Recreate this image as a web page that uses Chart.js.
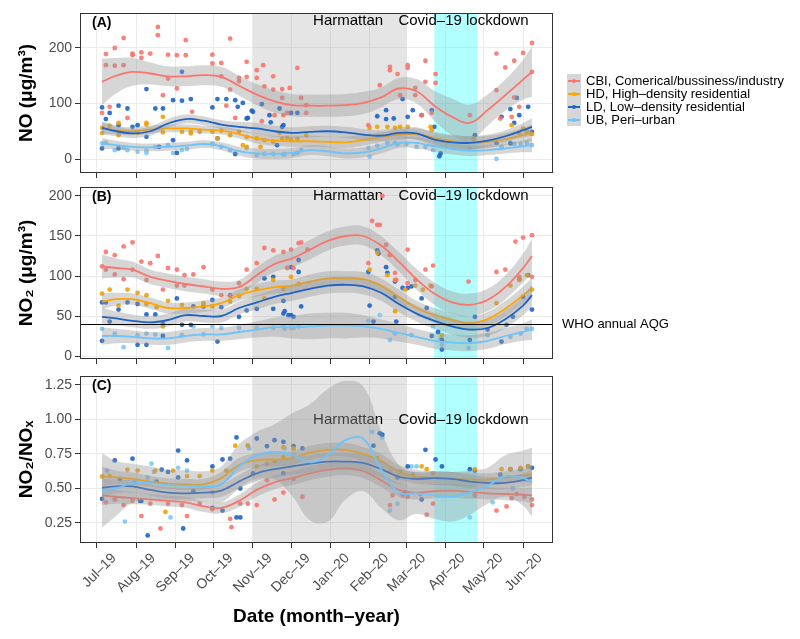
<!DOCTYPE html>
<html>
<head>
<meta charset="utf-8">
<script src="https://cdn.jsdelivr.net/npm/chart.js@4.4.1/dist/chart.umd.min.js"></script>
<style>
  body { margin: 0; background: #fff; width: 800px; height: 639px; position: relative; overflow: hidden;
         font-family: 'Liberation Sans', Arial, sans-serif; }
  canvas { position: absolute; left: 0; }
  #legend { position: absolute; left: 567px; top: 74px; font-size: 13px; color: #000; }
  .row { display: flex; align-items: center; height: 13px; }
  .key { width: 14px; height: 13px; background: #D6D6D6; position: relative; margin-right: 5px; }
  .key i { position: absolute; left: 1px; right: 1px; top: 5.5px; height: 2px; }
  .key b { position: absolute; left: 5px; top: 4.5px; width: 4px; height: 4px; border-radius: 50%; }
</style>
</head>
<body>
<canvas id="cA" width="800" height="180" style="top:0px"></canvas>
<canvas id="cB" width="800" height="190" style="top:180px"></canvas>
<canvas id="cC" width="800" height="269" style="top:370px"></canvas>
<div id="legend"></div>
<script>
// all dates are days counted from 1 Jul 2019
const monthDays = [0, 31, 62, 92, 123, 153, 184, 215, 244, 275, 305, 336];
const monthLabels = ['Jul–19', 'Aug–19', 'Sep–19', 'Oct–19', 'Nov–19', 'Dec–19',
                     'Jan–20', 'Feb–20', 'Mar–20', 'Apr–20', 'May–20', 'Jun–20'];
const harmattan = [123, 244];
const lockdown = [266, 300];
const sites = ['CBI, Comerical/bussiness/industry', 'HD, High–density residential',
               'LD, Low–density residential', 'UB, Peri–urban'];

const fitDays = [4, 15, 28, 42, 56, 70, 84, 98, 112, 126, 140, 154, 168, 182, 196, 210, 224, 238, 252, 266, 280, 294, 308, 322, 336, 343];

// (A) NO, [day, value]
const noCBI = [[4,83],[7,189],[7,169],[10,94],[14,200],[14,168],[21,218],[21,169],[24,74],[28,190],[28,187],[35,192],[35,182],[42,190],[48,238],[48,223],[52,115],[56,188],[56,145],[63,187],[63,127],[70,214],[70,187],[75,85],[91,188],[91,172],[98,173],[98,149],[102,96],[105,217],[105,125],[109,74],[112,146],[112,140],[118,175],[118,148],[126,160],[126,146],[130,68],[131,169],[132,131],[139,149],[139,125],[140,79],[146,126],[146,110],[147,79],[150,83],[152,128],[158,164],[161,110],[165,97],[165,83],[214,61],[223,133],[231,166],[231,160],[237,153],[239,115],[245,169],[245,164],[251,128],[251,115],[256,79],[259,177],[259,139],[264,83],[267,153],[267,137],[294,79],[315,190],[315,124],[318,73],[322,165],[327,76],[329,177],[329,111],[333,94],[336,191],[343,209],[343,157]];
const noHD = [[4,56],[4,47],[10,60],[17,65],[17,43],[32,47],[39,65],[39,62],[52,76],[52,48],[67,49],[74,49],[74,46],[81,49],[91,49],[95,37],[98,51],[105,43],[112,49],[115,25],[118,40],[118,22],[126,37],[129,22],[132,34],[139,31],[144,47],[146,36],[150,38],[153,34],[158,36],[165,43],[215,56],[221,58],[229,58],[235,56],[239,58],[245,58],[263,58],[264,52],[297,36],[327,61],[333,47],[336,55],[339,49],[343,45]];
const noLD = [[4,93],[4,19],[7,72],[10,83],[17,96],[17,61],[17,19],[24,91],[28,58],[32,61],[39,126],[39,40],[46,91],[49,22],[52,91],[60,106],[60,34],[63,11],[67,105],[67,157],[74,108],[91,93],[95,108],[95,37],[102,108],[109,106],[109,9],[111,94],[115,101],[118,73],[119,74],[122,87],[123,85],[130,99],[136,79],[137,66],[142,25],[144,91],[146,58],[147,61],[153,83],[158,83],[221,77],[228,88],[228,72],[234,73],[241,108],[245,76],[249,88],[256,79],[264,88],[266,58],[270,5],[271,10],[298,43],[315,29],[319,76],[326,90],[326,28],[329,65],[331,110],[333,79],[340,94],[343,49]];
const noUB = [[4,28],[7,29],[14,16],[21,20],[24,16],[32,13],[39,11],[39,15],[46,22],[56,25],[60,11],[67,16],[71,18],[91,27],[98,22],[105,16],[109,9],[118,20],[126,7],[132,9],[139,9],[147,8],[148,9],[155,9],[158,11],[161,16],[214,20],[215,4],[221,24],[229,29],[235,29],[237,26],[244,27],[252,22],[259,22],[265,16],[294,18],[315,0],[319,22],[326,29],[329,27],[334,27],[339,29],[343,25]];
const noFitCBI = [139,150,157,154,149,149,151,148,132,116,104,97,96,96,97,101,111,127,122,96,76,65,88,115,143,157];
const noFitHD  = [56,52,50,53,55,55,53,51,45,37,33,32,32,31,30,34,39,44,45,38,32,29,31,36,43,47];
const noFitLD  = [56,50,46,50,64,72,69,62,58,55,50,47,49,50,48,44,42,47,46,35,30,29,33,41,52,58];
const noFitUB  = [28,25,22,21,22,24,27,23,14,10,9,11,16,14,10,12,19,29,29,23,18,15,16,19,23,25];
const noSeCBI = [42,32,25,20,18,18,18,18,18,19,20,20,20,20,20,20,18,19,22,27,33,33,28,28,36,45];
const noSeHD  = [10,8,7,7,7,7,7,7,8,9,9,10,10,10,10,10,9,9,10,11,12,12,11,11,13,15];
const noSeLD  = [12,9,8,8,8,8,8,8,9,10,10,10,10,10,10,10,10,10,11,12,12,12,11,11,13,16];
const noSeUB  = [10,8,7,7,7,7,7,7,8,9,9,9,9,9,9,9,9,9,10,10,10,10,9,9,11,13];

// (B) NO2
const no2CBI = [[4,112],[7,130],[7,108],[14,126],[14,102],[21,137],[21,96],[28,142],[28,108],[35,118],[39,95],[42,116],[48,125],[52,83],[56,110],[63,108],[63,88],[69,101],[69,88],[76,102],[84,111],[91,83],[98,76],[105,75],[112,91],[118,108],[126,116],[132,135],[139,132],[147,130],[150,110],[153,133],[155,110],[159,141],[161,142],[166,133],[214,116],[217,169],[221,164],[223,164],[225,200],[228,139],[231,126],[235,104],[236,95],[245,133],[245,91],[251,95],[259,108],[264,87],[265,113],[293,93],[315,105],[322,108],[330,143],[333,99],[336,148],[343,151],[343,99]];
const no2HD = [[4,78],[10,83],[17,63],[24,83],[32,79],[39,76],[39,65],[47,61],[52,37],[56,69],[67,64],[84,66],[91,62],[105,68],[112,75],[118,84],[126,84],[132,72],[139,95],[147,84],[153,99],[159,90],[215,108],[221,129],[229,101],[235,95],[235,56],[243,83],[251,88],[257,83],[263,88],[272,26],[315,66],[326,88],[333,95],[339,101],[343,83]];
const no2LD = [[4,67],[4,19],[7,67],[10,43],[17,58],[24,67],[32,65],[32,14],[39,52],[39,14],[46,52],[52,40],[52,25],[63,72],[67,39],[74,39],[76,62],[84,62],[91,70],[95,18],[98,61],[105,76],[112,49],[118,57],[126,59],[132,97],[139,99],[139,59],[147,69],[147,53],[148,56],[151,51],[153,111],[153,51],[155,49],[159,120],[159,105],[161,62],[214,105],[215,63],[218,43],[221,132],[222,128],[228,111],[229,104],[235,93],[235,74],[236,43],[241,85],[245,85],[248,87],[256,72],[260,60],[264,25],[269,30],[272,20],[272,8],[294,20],[298,49],[308,33],[319,18],[323,39],[328,49],[333,96],[336,74],[340,101],[343,58]];
const no2UB = [[4,34],[14,28],[21,11],[32,26],[39,28],[46,27],[52,25],[56,10],[67,26],[76,37],[84,27],[91,37],[98,35],[112,35],[126,35],[139,35],[147,37],[148,34],[153,35],[155,35],[159,37],[214,44],[223,51],[231,20],[235,28],[248,26],[265,37],[271,22],[272,14],[293,10],[308,26],[326,24],[334,28],[339,34],[343,34]];
const no2FitCBI = [112,110,108,99,94,90,87,84,86,101,115,122,133,144,150,150,138,118,96,78,67,64,70,86,110,125];
const no2FitHD  = [68,71,71,66,60,60,62,66,76,82,86,88,93,97,97,96,88,74,60,51,45,41,46,59,76,85];
const no2FitLD  = [49,47,44,42,45,51,50,50,60,67,74,79,84,88,89,87,79,65,53,44,37,33,35,46,63,76];
const no2FitUB  = [25,25,24,22,22,25,27,27,30,33,36,36,37,38,38,37,34,29,24,19,17,16,19,25,30,33];
const no2SeCBI = [15,12,10,9,9,9,9,9,9,10,10,11,12,12,12,12,12,12,13,14,14,14,14,15,18,22];
const no2SeHD  = [10,8,7,7,7,7,7,7,7,8,8,8,9,9,9,9,9,9,9,9,9,9,9,10,11,13];
const no2SeLD  = [11,9,8,8,8,8,8,8,8,9,9,10,10,10,10,10,10,10,10,10,10,10,10,11,12,14];
const no2SeUB  = [11,9,8,8,8,8,8,8,9,10,12,14,16,16,16,14,12,11,10,10,10,10,10,10,11,13];

// (C) NO2/NOx
const ratioCBI = [[7,0.40],[14,0.42],[21,0.38],[28,0.41],[35,0.30],[42,0.39],[50,0.21],[56,0.39],[67,0.38],[71,0.30],[81,0.39],[91,0.35],[91,0.47],[105,0.28],[106,0.22],[113,0.39],[119,0.39],[126,0.38],[134,0.56],[140,0.42],[147,0.47],[155,0.57],[162,0.44],[231,0.38],[233,0.45],[241,0.45],[245,0.44],[255,0.46],[260,0.31],[265,0.39],[298,0.45],[315,0.34],[323,0.37],[327,0.43],[331,0.46],[337,0.44],[343,0.42],[343,0.38]];
const ratioHD = [[4,0.587],[10,0.59],[24,0.636],[32,0.63],[46,0.63],[54,0.33],[60,0.63],[71,0.59],[81,0.59],[91,0.63],[102,0.63],[109,0.81],[119,0.81],[126,0.66],[134,0.68],[140,0.70],[147,0.725],[147,0.80],[155,0.74],[155,0.79],[221,0.72],[231,0.62],[239,0.62],[249,0.60],[256,0.66],[260,0.64],[265,0.61],[298,0.64],[319,0.64],[326,0.64],[334,0.65],[340,0.66]];
const ratioLD = [[4,0.425],[14,0.703],[18,0.57],[28,0.716],[34,0.41],[35,0.41],[40,0.16],[47,0.55],[51,0.636],[56,0.62],[64,0.775],[64,0.58],[68,0.21],[71,0.703],[76,0.48],[91,0.66],[91,0.36],[99,0.71],[99,0.34],[105,0.716],[110,0.87],[110,0.29],[113,0.29],[113,0.5],[123,0.61],[126,0.862],[134,0.807],[140,0.85],[147,0.838],[147,0.61],[155,0.807],[162,0.79],[218,0.81],[223,0.90],[225,0.89],[237,0.58],[243,0.47],[245,0.66],[256,0.42],[259,0.78],[267,0.71],[272,0.66],[294,0.64],[298,0.63],[318,0.60],[326,0.64],[334,0.64],[340,0.66],[343,0.65]];
const ratioUB = [[8,0.63],[22,0.26],[30,0.55],[40,0.58],[43,0.68],[45,0.62],[58,0.29],[64,0.65],[71,0.63],[119,0.81],[120,0.79],[148,0.79],[155,0.79],[217,0.91],[225,0.87],[231,0.34],[237,0.39],[248,0.66],[252,0.66],[294,0.29],[312,0.40],[328,0.50],[339,0.57]];
const ratioFitCBI = [0.45,0.44,0.43,0.42,0.41,0.40,0.37,0.36,0.41,0.49,0.545,0.575,0.61,0.635,0.645,0.625,0.56,0.49,0.47,0.48,0.485,0.475,0.465,0.46,0.455,0.45];
const ratioFitHD  = [0.587,0.58,0.57,0.55,0.535,0.53,0.53,0.575,0.67,0.705,0.71,0.72,0.76,0.78,0.78,0.75,0.70,0.62,0.585,0.575,0.57,0.565,0.565,0.58,0.595,0.6];
const ratioFitLD  = [0.505,0.515,0.515,0.49,0.47,0.465,0.47,0.485,0.55,0.61,0.64,0.66,0.68,0.695,0.695,0.685,0.64,0.585,0.57,0.575,0.57,0.55,0.54,0.54,0.56,0.58];
const ratioFitUB  = [0.486,0.5,0.54,0.54,0.525,0.52,0.515,0.53,0.66,0.74,0.765,0.745,0.69,0.74,0.85,0.86,0.64,0.47,0.465,0.45,0.44,0.47,0.52,0.59,0.575,0.545];
const ratioSeCBI = [0.07,0.05,0.045,0.04,0.04,0.04,0.04,0.04,0.045,0.05,0.05,0.05,0.05,0.05,0.05,0.05,0.05,0.05,0.05,0.05,0.05,0.05,0.045,0.045,0.05,0.06];
const ratioSeHD  = [0.07,0.05,0.045,0.04,0.04,0.04,0.04,0.045,0.05,0.05,0.05,0.05,0.05,0.05,0.05,0.05,0.05,0.05,0.05,0.05,0.05,0.05,0.045,0.045,0.05,0.06];
const ratioSeLD  = [0.07,0.05,0.045,0.04,0.04,0.04,0.04,0.045,0.05,0.055,0.06,0.06,0.06,0.06,0.06,0.06,0.06,0.055,0.05,0.05,0.05,0.05,0.045,0.045,0.05,0.06];
const ratioSeUB  = [0.27,0.2,0.14,0.12,0.11,0.11,0.11,0.13,0.16,0.17,0.2,0.3,0.42,0.48,0.43,0.38,0.28,0.2,0.15,0.17,0.18,0.16,0.13,0.15,0.2,0.25];

const pointColors = ['rgba(248,118,109,0.9)', 'rgba(240,162,2,0.9)', 'rgba(31,99,198,0.9)', 'rgba(124,200,248,0.9)'];
const lineColors = ['#F8766D', '#FFA500', '#1F63C6', '#6EC3FA'];

Chart.defaults.font.family = "'Liberation Sans', Arial, sans-serif";

// legend
const legend = document.getElementById('legend');
sites.forEach((s, i) => {
  legend.insertAdjacentHTML('beforeend',
    '<div class="row"><span class="key"><i style="background:' + lineColors[i] + '"></i><b style="background:' + lineColors[i] + '"></b></span>' + s + '</div>');
});

function buildDatasets(points, fits, ses) {
  const ds = [];
  points.forEach((pts, s) => ds.push({
    data: pts.map(p => ({x: p[0], y: p[1]})),
    showLine: false, pointRadius: 2.4, pointBorderWidth: 0,
    pointBackgroundColor: pointColors[s], order: 100, clip: 0
  }));
  fits.forEach((f, s) => {
    const o = 20 - s * 3;
    const se = ses[s];
    ds.push({data: fitDays.map((d, i) => ({x: d, y: f[i] + se[i]})), borderWidth: 0, borderColor: 'transparent',
             pointRadius: 0, tension: 0.4, fill: false, order: o, clip: 0});
    ds.push({data: fitDays.map((d, i) => ({x: d, y: f[i] - se[i]})), borderWidth: 0, borderColor: 'transparent',
             pointRadius: 0, tension: 0.4, fill: '-1', backgroundColor: 'rgba(153,153,153,0.4)', order: o, clip: 0});
    ds.push({data: fitDays.map((d, i) => ({x: d, y: f[i]})), borderColor: lineColors[s], borderWidth: 1.8,
             pointRadius: 0, tension: 0.4, fill: false, order: o - 1, clip: 0});
  });
  return ds;
}

const decor = {
  id: 'decor',
  beforeDatasetsDraw(chart, args, opts) {
    const {ctx, chartArea: a, scales: {x, y}} = chart;
    ctx.save();
    ctx.fillStyle = 'rgba(127,127,127,0.2)';
    const h0 = x.getPixelForValue(harmattan[0]), h1 = x.getPixelForValue(harmattan[1]);
    ctx.fillRect(h0, a.top, h1 - h0, a.height);
    ctx.fillStyle = 'rgba(0,255,255,0.3)';
    const l0 = x.getPixelForValue(lockdown[0]), l1 = x.getPixelForValue(lockdown[1]);
    ctx.fillRect(l0, a.top, l1 - l0, a.height);
    ctx.fillStyle = '#000';
    ctx.font = "15px 'Liberation Sans', Arial, sans-serif";
    ctx.textAlign = 'center';
    ctx.textBaseline = 'middle';
    ctx.fillText('Harmattan', x.getPixelForValue(198), y.getPixelForValue(opts.textY));
    ctx.fillText('Covid–19 lockdown', x.getPixelForValue(289), y.getPixelForValue(opts.textY));
    ctx.restore();
  },
  afterDatasetsDraw(chart, args, opts) {
    const {ctx, chartArea: a, scales: {y}} = chart;
    ctx.save();
    if (opts.who) {
      const wy = Math.round(y.getPixelForValue(opts.who)) + 0.5;
      ctx.strokeStyle = '#000';
      ctx.lineWidth = 1;
      ctx.beginPath();
      ctx.moveTo(a.left, wy);
      ctx.lineTo(a.right, wy);
      ctx.stroke();
      ctx.fillStyle = '#000';
      ctx.font = "13px 'Liberation Sans', Arial, sans-serif";
      ctx.textAlign = 'left';
      ctx.textBaseline = 'middle';
      ctx.fillText('WHO annual AQG', a.right + 9, wy);
    }
    ctx.strokeStyle = '#333';
    ctx.lineWidth = 1;
    ctx.strokeRect(a.left + 0.5, a.top + 0.5, a.width - 1, a.height - 1);
    ctx.fillStyle = '#000';
    ctx.font = "bold 14px 'Liberation Sans', Arial, sans-serif";
    ctx.textAlign = 'left';
    ctx.textBaseline = 'middle';
    ctx.fillText(opts.label, a.left + 12, a.top + 10);
    ctx.restore();
  }
};

function panel(id, cfg) {
  const showX = cfg.showX;
  return new Chart(document.getElementById(id), {
    type: 'line',
    data: {datasets: buildDatasets(cfg.points, cfg.fits, cfg.ses)},
    plugins: [decor],
    options: {
      responsive: false, animation: false, events: [],
      layout: {padding: {top: cfg.top, right: 247, left: 0, bottom: 0}},
      plugins: {legend: {display: false}, tooltip: {enabled: false},
                decor: {label: cfg.label, textY: cfg.textY, who: cfg.who}},
      scales: {
        x: {
          type: 'linear', min: -13.4, max: 359.6,
          afterBuildTicks: s => { s.ticks = monthDays.map(v => ({value: v})); },
          afterFit: s => { s.height = cfg.xHeight; s.paddingLeft = 0; s.paddingRight = 0; },
          ticks: {display: showX, autoSkip: false, minRotation: 45, maxRotation: 45, color: '#4D4D4D',
                  font: {size: 14}, padding: 2, labelOffset: 17, callback: (v, i) => monthLabels[i]},
          grid: {color: '#EBEBEB', tickColor: '#333', tickLength: 5},
          border: {display: false},
          title: {display: showX, text: 'Date (month–year)', color: '#000',
                  font: {size: 19, weight: 'bold'}, padding: {top: 0, bottom: 11}}
        },
        y: {
          min: cfg.yMin, max: cfg.yMax,
          afterBuildTicks: s => { s.ticks = cfg.yTicks.map(v => ({value: v})); },
          afterFit: s => { s.width = 80; s.paddingTop = 0; s.paddingBottom = 0; },
          ticks: {color: '#4D4D4D', font: {size: 14}, padding: 3, callback: cfg.fmt},
          grid: {color: '#EBEBEB', tickColor: '#333', tickLength: 5},
          border: {display: false},
          title: {display: true, text: cfg.title, color: '#000',
                  font: {size: 19, weight: 'bold'}, padding: {top: 15, bottom: 0}}
        }
      }
    }
  });
}

panel('cA', {
  label: '(A)', title: 'NO (μg/m³)', top: 13, xHeight: 7, showX: false,
  yMin: -25.2, yMax: 263, yTicks: [0, 100, 200], fmt: v => String(v), textY: 249,
  points: [noCBI, noHD, noLD, noUB],
  fits: [noFitCBI, noFitHD, noFitLD, noFitUB],
  ses: [noSeCBI, noSeHD, noSeLD, noSeUB]
});
panel('cB', {
  label: '(B)', title: 'NO₂ (μg/m³)', top: 7, xHeight: 11, showX: false,
  yMin: -3.75, yMax: 211.25, yTicks: [0, 50, 100, 150, 200], fmt: v => String(v), textY: 200, who: 40,
  points: [no2CBI, no2HD, no2LD, no2UB],
  fits: [no2FitCBI, no2FitHD, no2FitLD, no2FitUB],
  ses: [no2SeCBI, no2SeHD, no2SeLD, no2SeUB]
});
panel('cC', {
  label: '(C)', title: 'NO₂/NOₓ', top: 6, xHeight: 96, showX: true,
  yMin: 0.105, yMax: 1.315, yTicks: [0.25, 0.5, 0.75, 1.0, 1.25], fmt: v => v.toFixed(2), textY: 1.0,
  points: [ratioCBI, ratioHD, ratioLD, ratioUB],
  fits: [ratioFitCBI, ratioFitHD, ratioFitLD, ratioFitUB],
  ses: [ratioSeCBI, ratioSeHD, ratioSeLD, ratioSeUB]
});
</script>
</body>
</html>
